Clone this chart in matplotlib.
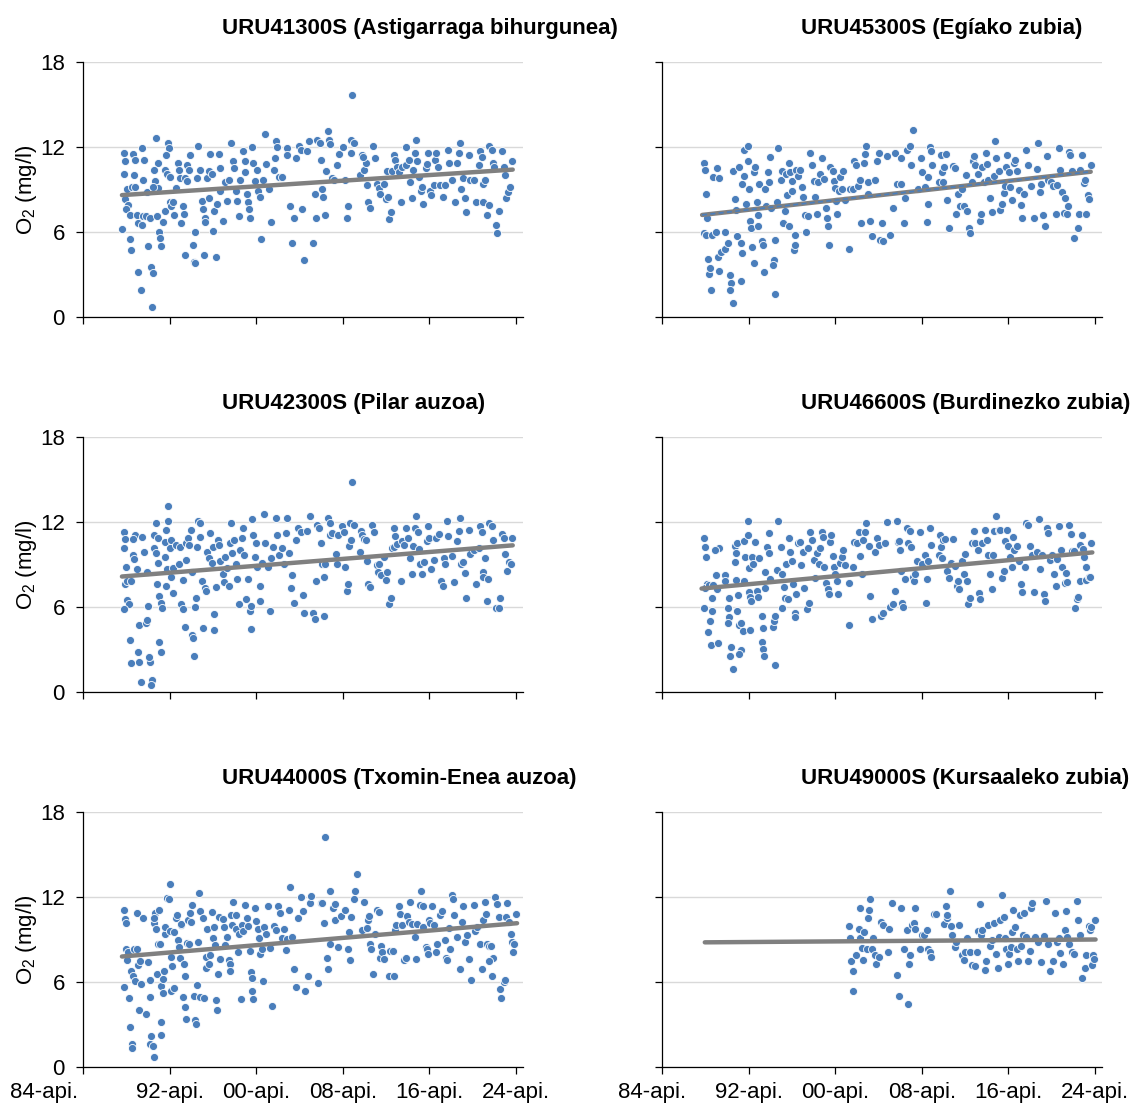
import numpy as np
import matplotlib
matplotlib.use('Agg')
import matplotlib.pyplot as plt
from matplotlib.transforms import ScaledTranslation

plt.rcParams['font.family'] = ['Liberation Sans', 'DejaVu Sans']
plt.rcParams['mathtext.fontset'] = 'custom'
plt.rcParams['mathtext.rm'] = 'Liberation Sans'

# O2 (mg/l) neurketak: (urtea, balioa)
uru41300s = [
    (1988.0, 11.6), (1988.1, 11.0), (1988.0, 10.1), (1988.3, 9.0), (1988.1, 8.3), (1988.4, 7.9), (1988.2, 7.6),
    (1988.6, 7.2), (1987.9, 6.2), (1988.6, 5.5), (1988.7, 4.7), (1989.3, 3.2), (1989.6, 1.9), (1990.6, 0.7),
    (1990.5, 3.5), (1990.7, 3.1), (1990.3, 5.0), (1988.9, 11.5), (1989.1, 11.1), (1989.7, 11.9), (1989.9, 11.1),
    (1989.0, 10.0), (1988.8, 9.2), (1989.1, 9.2), (1989.8, 9.7), (1989.2, 7.2), (1989.8, 7.1), (1989.3, 6.6),
    (1989.7, 6.5), (1990.1, 7.1), (1990.4, 7.0), (1990.2, 8.8), (1991.0, 12.6), (1991.2, 10.9), (1990.8, 10.4),
    (1990.9, 9.6), (1991.2, 9.1), (1990.7, 9.2), (1991.1, 7.1), (1991.3, 6.0), (1991.4, 5.6), (1991.5, 5.0),
    (1991.6, 6.7), (1991.8, 7.5), (1991.8, 10.4), (1992.1, 12.3), (1992.2, 11.9), (1991.9, 11.4), (1992.0, 10.1),
    (1992.3, 9.9), (1992.3, 8.1), (1992.4, 7.8), (1992.6, 8.1), (1992.8, 9.1), (1992.7, 7.2), (1993.0, 10.9),
    (1993.1, 10.4), (1993.2, 9.8), (1993.5, 7.8), (1993.6, 7.3), (1993.3, 6.6), (1993.7, 4.4), (1993.9, 10.7),
    (1994.1, 11.4), (1994.0, 10.4), (1993.7, 9.8), (1993.9, 9.6), (1994.4, 5.1), (1994.5, 3.9), (1994.6, 3.8),
    (1994.6, 6.0), (1994.9, 12.1), (1994.8, 9.8), (1995.05, 10.4), (1995.2, 8.2), (1995.3, 7.6), (1995.5, 7.0),
    (1995.5, 6.7), (1995.4, 4.4), (1995.7, 9.8), (1996.0, 11.5), (1995.9, 10.3), (1995.9, 8.4), (1996.2, 10.1),
    (1996.4, 7.5), (1996.3, 6.1), (1996.5, 4.2), (1996.6, 8.0), (1996.8, 11.5), (1996.9, 10.5), (1996.9, 8.9),
    (1997.2, 6.8), (1997.4, 9.5), (1997.7, 9.7), (1997.6, 8.2), (1997.9, 12.3), (1998.1, 11.0), (1998.2, 10.5),
    (1998.4, 8.9), (1998.5, 8.2), (1998.7, 7.1), (1998.8, 9.7), (1999.0, 11.7), (1999.2, 11.0), (1999.2, 10.2),
    (1999.4, 8.7), (1999.5, 8.1), (1999.6, 7.6), (1999.7, 7.0), (1999.9, 12.0), (2000.0, 10.9), (2000.1, 9.6),
    (2000.3, 10.4), (2000.4, 8.9), (2000.6, 8.5), (2000.7, 5.5), (2000.9, 9.7), (2001.1, 12.9), (2001.2, 10.8),
    (2001.4, 9.0), (2001.6, 6.7), (2001.9, 10.4), (2002.1, 12.4), (2002.2, 12.0), (2002.0, 11.2), (2002.35, 9.9),
    (2002.65, 9.9), (2003.1, 11.9), (2003.1, 11.4), (2003.4, 7.8), (2003.6, 5.2), (2003.7, 7.0), (2003.9, 11.2),
    (2004.2, 12.1), (2004.35, 11.8), (2004.5, 7.6), (2004.7, 4.0), (2004.9, 11.7), (2005.1, 12.4), (2005.5, 5.2),
    (2005.7, 8.7), (2005.8, 7.0), (2005.9, 12.5), (2006.15, 12.3), (2006.25, 11.1),
    (2006.4, 8.5), (2006.3, 9.0), (2006.6, 7.2), (2006.7, 10.3), (2006.9, 13.1), (2007.0, 12.5), (2007.1, 12.2),
    (2007.25, 9.8), (2007.4, 9.7), (2007.7, 10.7), (2007.9, 11.5), (2008.3, 12.0), (2008.5, 9.7), (2008.6, 7.0),
    (2008.7, 7.8), (2009.0, 11.6), (2009.1, 15.7), (2009.0, 12.5), (2009.3, 12.25), (2009.8, 10.0), (2010.0, 11.4),
    (2010.2, 10.4), (2010.35, 10.85), (2010.1, 11.3), (2010.45, 9.3), (2010.6, 8.1), (2010.8, 7.7), (2011.0, 12.1),
    (2011.2, 11.2), (2011.4, 9.4), (2011.6, 9.1), (2011.7, 8.7), (2012.1, 9.4), (2012.2, 8.3), (2012.4, 8.5),
    (2012.5, 6.9), (2012.7, 7.4), (2012.3, 10.3), (2012.8, 10.3), (2013.0, 11.4), (2013.1, 11.1), (2013.3, 10.6),
    (2013.4, 10.2), (2013.6, 8.1), (2013.7, 10.6), (2014.1, 10.7), (2014.1, 12.0), (2014.35, 11.05), (2014.5, 9.5),
    (2014.6, 8.4), (2014.7, 10.4), (2014.9, 11.6), (2015.05, 12.5), (2015.15, 11.0), (2015.25, 9.9), (2015.45, 8.9),
    (2015.6, 9.2), (2015.7, 8.0), (2015.9, 10.5), (2016.0, 10.8), (2016.1, 11.6), (2016.3, 8.9), (2016.4, 8.6),
    (2016.65, 9.3), (2016.8, 11.1), (2016.9, 11.6), (2017.05, 10.6), (2017.2, 9.3), (2017.5, 8.5), (2017.7, 9.3),
    (2017.95, 11.8), (2018.1, 10.85), (2018.35, 9.65), (2018.6, 8.1), (2018.8, 10.85), (2018.95, 11.6),
    (2019.05, 12.25), (2019.2, 9.0), (2019.35, 9.8), (2019.5, 8.4), (2019.65, 7.4), (2019.9, 11.4), (2020.0, 9.7),
    (2020.35, 9.65), (2020.55, 8.1), (2020.8, 10.7), (2020.95, 11.7), (2021.1, 11.3), (2021.2, 9.4), (2021.4, 9.65),
    (2021.25, 8.1), (2021.6, 7.2), (2021.75, 7.9), (2021.8, 12.1), (2022.0, 11.8), (2022.1, 10.9), (2022.25, 10.6),
    (2022.4, 6.5), (2022.5, 5.95), (2022.7, 7.45), (2022.95, 11.7), (2023.1, 10.6), (2023.25, 10.0), (2023.35, 8.4),
    (2023.5, 8.8), (2023.7, 9.2), (2023.9, 11.0),
]

uru45300s = [
    (1988.1, 10.85), (1988.2, 10.35), (1988.3, 8.7), (1988.4, 7.0), (1988.1, 5.95), (1988.3, 5.8), (1988.9, 5.8),
    (1988.5, 4.1), (1988.6, 3.0), (1988.8, 1.9), (1988.7, 3.45), (1989.0, 9.9), (1989.3, 10.5), (1989.5, 9.8),
    (1989.25, 6.0), (1989.5, 3.25), (1989.45, 4.2), (1989.7, 4.6), (1990.05, 6.0), (1990.1, 4.8), (1990.35, 5.25),
    (1990.5, 2.95), (1990.6, 2.4), (1990.55, 1.9), (1990.8, 0.95), (1990.95, 8.35), (1990.85, 10.3), (1991.1, 7.55),
    (1991.2, 5.7), (1991.35, 10.6), (1991.5, 5.25), (1991.65, 4.5), (1991.55, 2.55), (1991.65, 9.35), (1991.8, 9.95),
    (1991.85, 11.75), (1992.15, 12.05), (1992.2, 11.0), (1992.0, 7.95), (1992.25, 9.0), (1992.35, 6.8), (1992.45, 6.3),
    (1992.55, 4.95), (1992.7, 10.2), (1992.7, 3.8), (1992.85, 10.6), (1993.0, 8.1), (1993.1, 7.2), (1993.1, 6.4),
    (1993.25, 9.4), (1993.45, 5.35), (1993.55, 5.1), (1993.65, 3.2), (1993.75, 9.0), (1993.85, 7.85), (1994.05, 10.2),
    (1994.1, 9.5), (1994.2, 11.3), (1994.35, 7.7), (1994.55, 4.05), (1994.5, 3.65), (1994.65, 5.4), (1994.65, 1.65),
    (1994.85, 8.1), (1995.0, 11.9), (1995.2, 9.7), (1995.3, 10.3), (1995.4, 6.65), (1995.6, 7.5), (1995.7, 10.1),
    (1995.8, 8.6), (1995.95, 10.9), (1995.95, 6.4), (1996.1, 10.2), (1996.25, 9.6), (1996.3, 8.9), (1996.4, 4.7),
    (1996.5, 5.1), (1996.55, 5.8), (1996.6, 10.4), (1996.8, 9.95), (1997.0, 10.4), (1997.2, 9.2), (1997.3, 8.5),
    (1997.45, 7.2), (1997.55, 6.0), (1997.7, 7.1), (1997.95, 11.55), (1998.1, 10.7), (1998.25, 9.6), (1998.4, 8.5),
    (1998.6, 7.25), (1998.7, 9.5), (1998.85, 10.1), (1999.0, 11.25), (1999.2, 9.75), (1999.35, 7.7), (1999.5, 7.0),
    (1999.6, 6.4), (1999.7, 5.1), (1999.8, 10.6), (2000.0, 10.3), (2000.1, 9.6), (2000.25, 9.1), (2000.35, 8.2),
    (2000.45, 7.25), (2000.6, 8.9), (2000.7, 9.85), (2000.85, 9.0), (2001.0, 10.3), (2001.15, 8.25), (2001.5, 4.8),
    (2001.65, 9.0), (2001.85, 9.05), (2002.0, 11.0), (2002.2, 10.7), (2002.35, 9.25), (2002.55, 9.7), (2002.65, 6.65),
    (2002.9, 10.85), (2003.0, 11.5), (2003.1, 12.05), (2003.3, 8.7), (2003.3, 9.5), (2003.5, 6.8), (2003.6, 5.7),
    (2003.9, 9.7), (2004.1, 11.0), (2004.3, 11.6), (2004.4, 5.45), (2004.6, 6.65), (2004.7, 5.35), (2005.0, 11.35),
    (2005.3, 5.8), (2005.6, 7.7), (2005.8, 11.6), (2006.0, 9.4),
    (2006.3, 11.25), (2006.6, 6.65), (2006.7, 8.4), (2006.3, 9.4), (2006.9, 11.75), (2007.15, 12.05), (2007.25, 10.7),
    (2007.45, 13.2), (2007.85, 9.05), (2008.2, 11.2), (2008.3, 10.25), (2008.55, 9.2), (2008.7, 6.7), (2008.8, 8.0),
    (2008.85, 9.9), (2009.0, 12.0), (2009.1, 11.7), (2009.2, 10.7), (2009.8, 9.5), (2010.0, 11.45), (2010.15, 10.2),
    (2010.25, 9.5), (2010.3, 10.55), (2010.45, 11.5), (2010.6, 8.25), (2010.75, 6.25), (2011.15, 10.65),
    (2011.35, 10.5), (2011.45, 7.25), (2011.6, 8.65), (2011.75, 7.8), (2011.95, 9.0), (2012.15, 7.85), (2012.3, 10.05),
    (2012.45, 7.5), (2012.6, 6.25), (2012.7, 5.95), (2012.85, 9.5), (2013.0, 11.0), (2013.05, 11.35), (2013.2, 10.7),
    (2013.45, 10.1), (2013.6, 6.8), (2013.7, 7.25), (2013.8, 10.6), (2014.0, 9.5), (2014.15, 11.55), (2014.3, 10.8),
    (2014.4, 9.7), (2014.55, 8.4), (2014.75, 7.4), (2014.9, 9.95), (2015.0, 12.4), (2015.1, 11.25), (2015.35, 10.3),
    (2015.5, 7.55), (2015.65, 8.0), (2015.8, 8.75), (2015.9, 9.25), (2016.05, 10.55), (2016.15, 11.45),
    (2016.3, 10.25), (2016.35, 9.2), (2016.6, 8.25), (2016.75, 10.9), (2016.9, 11.1), (2017.05, 10.3), (2017.2, 8.95),
    (2017.45, 7.9), (2017.5, 7.0), (2017.65, 8.65), (2017.85, 11.75), (2018.05, 10.7), (2018.35, 9.25),
    (2018.6, 6.95), (2018.9, 10.45), (2019.0, 12.25), (2019.15, 8.8), (2019.3, 9.4), (2019.4, 7.2), (2019.65, 6.4),
    (2019.8, 11.35), (2019.9, 9.65), (2020.2, 9.55), (2020.4, 9.25), (2020.6, 7.25), (2020.75, 9.3), (2020.9, 11.9),
    (2021.05, 10.35), (2021.2, 8.8), (2021.35, 7.35), (2021.5, 8.4), (2021.65, 7.25), (2021.75, 7.8), (2021.8, 11.65),
    (2021.95, 11.4), (2022.1, 10.3), (2022.35, 5.55), (2022.65, 6.25), (2022.8, 7.3), (2022.9, 10.4), (2023.0, 11.4),
    (2023.2, 9.45), (2023.35, 9.7), (2023.45, 7.25), (2023.6, 8.6), (2023.7, 8.35), (2023.85, 10.7),
]

uru42300s = [
    (1988.0, 11.3), (1988.1, 10.8), (1988.0, 10.15), (1988.25, 8.8), (1988.1, 7.65), (1988.35, 7.8), (1988.65, 7.85),
    (1988.35, 6.5), (1988.5, 6.2), (1988.0, 5.85), (1988.6, 3.7), (1988.7, 2.05), (1989.3, 2.85), (1989.4, 2.1),
    (1989.6, 0.7), (1989.1, 11.05), (1988.9, 10.8), (1988.9, 9.65), (1989.0, 9.4), (1989.2, 8.7), (1989.7, 10.95),
    (1989.9, 9.85), (1989.4, 4.7), (1990.1, 4.9), (1990.2, 5.05), (1990.3, 6.05), (1990.2, 8.5), (1990.45, 2.1),
    (1990.35, 2.5), (1990.6, 0.85), (1990.55, 0.5), (1990.8, 11.05), (1990.85, 10.15), (1991.0, 11.95), (1991.0, 9.8),
    (1991.15, 9.1), (1991.1, 7.6), (1991.3, 6.8), (1991.5, 6.3), (1991.55, 5.95), (1991.3, 3.5), (1991.45, 2.85),
    (1991.2, 10.9), (1991.8, 9.55), (1991.85, 10.6), (1991.9, 11.45), (1992.1, 13.1), (1992.1, 12.05), (1992.0, 8.7),
    (1991.95, 7.45), (1992.3, 10.15), (1992.4, 10.7), (1992.4, 8.15), (1992.6, 7.0), (1992.55, 8.75), (1992.85, 10.35),
    (1993.1, 9.0), (1993.2, 10.25), (1993.3, 6.2), (1993.5, 5.85), (1993.5, 7.9), (1993.65, 4.6), (1993.75, 9.35),
    (1993.8, 10.5), (1993.95, 10.85), (1994.05, 10.4), (1994.2, 11.45), (1994.3, 8.45), (1994.35, 4.05), (1994.4, 3.8),
    (1994.5, 2.55), (1994.6, 6.0), (1994.7, 6.6), (1994.8, 10.2), (1994.9, 12.05), (1995.1, 11.95), (1995.05, 10.95),
    (1995.2, 7.85), (1995.35, 4.55), (1995.5, 7.35), (1995.6, 7.1), (1995.75, 9.9), (1995.85, 9.45), (1995.95, 11.2),
    (1996.15, 9.1), (1996.25, 10.25), (1996.35, 4.4), (1996.35, 5.5), (1996.55, 7.4), (1996.7, 10.7), (1996.8, 10.35),
    (1996.95, 9.25), (1997.2, 8.3), (1997.25, 7.75), (1997.4, 9.5), (1997.55, 8.75), (1997.7, 7.45), (1997.8, 10.55),
    (1997.9, 11.95), (1998.0, 9.8), (1998.2, 10.7), (1998.35, 9.0), (1998.5, 8.0), (1998.65, 6.2), (1998.8, 10.05),
    (1998.95, 10.9), (1999.05, 11.55), (1999.15, 9.7), (1999.35, 6.55), (1999.5, 8.0), (1999.65, 5.7), (1999.75, 4.45),
    (1999.8, 6.1), (1999.9, 12.2), (2000.0, 11.05), (2000.1, 9.5), (2000.25, 10.5), (2000.35, 8.85), (2000.6, 7.45),
    (2000.65, 6.4), (2000.8, 9.1), (2001.0, 12.55), (2001.1, 10.5), (2001.3, 8.85), (2001.55, 5.75), (2001.6, 9.45),
    (2001.85, 10.25), (2002.1, 12.3), (2002.2, 11.05), (2002.4, 9.7), (2002.6, 10.15), (2002.8, 9.0), (2003.0, 11.2),
    (2003.1, 12.3), (2003.25, 9.8), (2003.5, 7.35), (2003.6, 8.25), (2003.7, 6.25), (2003.9, 10.7), (2004.15, 11.55),
    (2004.4, 11.3), (2004.55, 6.85), (2004.7, 5.55), (2004.95, 11.35), (2005.2, 12.4), (2005.5, 5.55), (2005.7, 5.15),
    (2005.8, 7.8), (2005.9, 11.8), (2006.1, 11.55), (2006.2, 10.5),
    (2006.5, 5.35), (2006.35, 9.0), (2006.5, 8.15), (2006.65, 9.0), (2006.9, 12.3), (2007.1, 11.95), (2007.1, 11.05),
    (2007.25, 11.2), (2007.6, 9.75), (2007.7, 9.0), (2007.85, 11.05), (2008.2, 11.7), (2008.35, 11.3), (2008.5, 8.85),
    (2008.65, 7.1), (2008.7, 7.6), (2008.8, 10.3), (2009.0, 10.75), (2008.9, 11.95), (2009.1, 14.8), (2009.25, 11.8),
    (2009.8, 9.85), (2009.95, 11.35), (2010.05, 11.05), (2010.2, 10.8), (2010.35, 10.7), (2010.45, 9.25),
    (2010.55, 7.65), (2010.75, 7.4), (2010.95, 11.8), (2011.15, 11.3), (2011.45, 8.95), (2011.5, 8.5), (2011.6, 9.0),
    (2011.75, 8.25), (2012.05, 9.5), (2012.2, 7.9), (2012.35, 8.45), (2012.5, 6.2), (2012.7, 6.6), (2012.8, 10.15),
    (2012.95, 10.2), (2013.0, 11.55), (2013.1, 11.0), (2013.3, 10.45), (2013.65, 7.8), (2013.7, 10.65),
    (2013.9, 10.35), (2014.1, 11.6), (2014.3, 10.9), (2014.5, 9.45), (2014.65, 8.3), (2014.75, 10.3), (2014.95, 11.6),
    (2015.05, 12.45), (2015.2, 11.3), (2015.25, 10.1), (2015.35, 9.0), (2015.6, 8.35), (2015.8, 9.15),
    (2016.0, 10.65), (2016.1, 11.7), (2016.2, 10.9), (2016.4, 8.7), (2016.65, 9.3), (2016.9, 10.85), (2017.1, 11.15),
    (2017.3, 7.8), (2017.5, 7.45), (2017.6, 9.45), (2017.7, 9.0), (2017.85, 12.1), (2018.0, 11.0), (2018.35, 9.6),
    (2018.55, 7.75), (2018.8, 10.65), (2018.95, 11.35), (2019.05, 12.3), (2019.2, 9.0), (2019.35, 9.2),
    (2019.5, 8.4), (2019.65, 6.65), (2019.9, 11.45), (2020.0, 9.75), (2020.35, 10.0), (2020.55, 7.6),
    (2020.8, 10.15), (2020.95, 11.7), (2021.1, 11.3), (2021.2, 8.45), (2021.35, 9.45), (2021.25, 8.15),
    (2021.7, 8.0), (2021.6, 6.4), (2021.8, 11.95), (2022.05, 11.75), (2022.15, 10.7), (2022.4, 5.95),
    (2022.65, 5.95), (2022.75, 6.6), (2022.95, 11.15), (2023.1, 10.85), (2023.25, 9.75), (2023.4, 8.55),
    (2023.6, 9.2), (2023.75, 9.0), (2023.9, 10.9),
]

uru46600s = [
    (1988.1, 10.9), (1988.2, 10.25), (1988.3, 9.5), (1988.4, 7.6), (1988.2, 7.35), (1988.6, 7.55), (1989.0, 7.55),
    (1989.3, 7.25), (1988.9, 6.6), (1988.1, 5.9), (1988.9, 5.7), (1988.7, 5.0), (1988.5, 4.25), (1988.8, 3.3),
    (1989.4, 3.45), (1989.2, 8.25), (1989.5, 10.15), (1989.1, 10.0), (1990.05, 8.25), (1990.1, 7.8), (1990.4, 6.6),
    (1990.35, 5.9), (1990.4, 5.3), (1990.35, 4.85), (1990.65, 3.2), (1990.55, 2.55), (1990.8, 1.6), (1991.5, 2.95),
    (1991.4, 2.7), (1991.0, 10.3), (1991.2, 10.5), (1991.05, 9.8), (1991.0, 9.2), (1991.1, 7.9), (1991.3, 6.85),
    (1991.2, 5.7), (1991.35, 4.75), (1991.55, 4.85), (1991.7, 4.3), (1991.8, 7.8), (1991.85, 10.65), (1991.95, 9.55),
    (1992.15, 12.1), (1992.2, 11.05), (1992.25, 8.75), (1992.3, 7.05), (1992.4, 6.7), (1992.45, 6.4), (1992.4, 4.4),
    (1992.55, 9.55), (1992.65, 9.0), (1992.85, 10.6), (1993.0, 7.1), (1993.1, 6.7), (1993.25, 9.45), (1993.45, 5.35),
    (1993.5, 3.5), (1993.55, 3.05), (1993.65, 2.55), (1993.55, 4.5), (1993.75, 8.45), (1993.8, 7.35), (1993.95, 10.25),
    (1994.1, 9.8), (1994.15, 11.25), (1994.25, 8.0), (1994.5, 4.6), (1994.55, 5.0), (1994.65, 5.35), (1994.65, 1.9),
    (1994.85, 8.6), (1995.0, 12.1), (1995.2, 10.25), (1995.3, 8.3), (1995.3, 5.95), (1995.5, 7.4), (1995.6, 6.6),
    (1995.7, 9.0), (1995.95, 10.85), (1995.9, 6.55), (1996.1, 9.85), (1996.25, 9.25), (1996.35, 7.6), (1996.5, 5.55),
    (1996.55, 5.3), (1996.6, 6.9), (1996.8, 10.5), (1997.0, 10.6), (1997.1, 8.95), (1997.25, 9.85), (1997.4, 7.35),
    (1997.6, 5.85), (1997.7, 10.15), (1997.85, 6.3), (1997.95, 11.3), (1998.1, 10.7), (1998.25, 9.3), (1998.4, 8.05),
    (1998.55, 9.8), (1998.75, 9.0), (1998.85, 10.15), (1999.0, 11.3), (1999.1, 10.95), (1999.25, 8.8), (1999.4, 7.7),
    (1999.55, 7.25), (1999.65, 6.95), (1999.8, 10.6), (1999.9, 11.05), (2000.0, 9.6), (2000.15, 8.85), (2000.25, 8.3),
    (2000.45, 7.8), (2000.55, 6.95), (2000.7, 9.1), (2000.85, 9.5), (2001.0, 10.0), (2001.15, 8.95), (2001.5, 4.75),
    (2001.55, 7.7), (2001.85, 8.85), (2002.0, 10.6), (2002.25, 10.5), (2002.45, 11.3), (2002.55, 9.6), (2002.7, 8.3),
    (2002.85, 10.7), (2003.0, 11.3), (2003.1, 11.95), (2003.35, 10.3), (2003.5, 6.75), (2003.6, 5.15), (2003.9, 9.85),
    (2004.1, 10.9), (2004.3, 10.35), (2004.5, 5.35), (2004.7, 5.55), (2004.85, 10.5), (2005.05, 12.0), (2005.35, 6.0),
    (2005.55, 6.2), (2005.75, 7.1), (2006.0, 12.05), (2006.05, 10.6),
    (2006.15, 10.65), (2006.25, 10.0), (2006.35, 8.55), (2006.45, 6.3), (2006.55, 6.0), (2006.65, 8.0),
    (2006.85, 11.55), (2007.0, 10.5), (2007.15, 11.35), (2007.25, 10.2), (2007.45, 8.1), (2007.55, 7.85),
    (2007.6, 8.3), (2007.8, 9.25), (2008.1, 11.3), (2008.25, 9.0), (2008.5, 9.65), (2008.6, 6.25), (2008.7, 8.0),
    (2008.8, 9.25), (2009.0, 11.55), (2009.1, 10.35), (2009.8, 9.65), (2009.95, 11.05), (2010.05, 10.25),
    (2010.15, 9.45), (2010.25, 10.7), (2010.4, 10.8), (2010.6, 8.55), (2010.75, 8.05), (2010.9, 9.1), (2011.1, 10.8),
    (2011.3, 8.9), (2011.5, 7.45), (2011.6, 7.85), (2011.7, 7.25), (2012.0, 9.25), (2012.1, 8.3), (2012.25, 9.75),
    (2012.4, 7.8), (2012.55, 6.2), (2012.7, 6.6), (2012.85, 10.5), (2013.1, 11.35), (2013.2, 10.55), (2013.4, 10.0),
    (2013.55, 7.0), (2013.65, 6.55), (2013.8, 10.55), (2014.1, 11.45), (2014.25, 10.75), (2014.35, 9.65),
    (2014.55, 8.3), (2014.7, 7.3), (2014.8, 9.7), (2014.95, 11.35), (2015.1, 12.4), (2015.35, 11.45),
    (2015.5, 11.45), (2015.7, 8.05), (2015.8, 8.55), (2015.95, 10.65), (2016.1, 11.45), (2016.25, 10.3),
    (2016.4, 9.5), (2016.6, 8.8), (2016.7, 10.95), (2016.8, 10.0), (2017.05, 10.3), (2017.2, 9.25), (2017.45, 7.65),
    (2017.5, 7.05), (2017.75, 8.85), (2017.9, 11.9), (2018.05, 11.8), (2018.2, 10.3), (2018.4, 9.65), (2018.6, 7.05),
    (2018.9, 9.9), (2019.05, 12.2), (2019.2, 8.7), (2019.35, 9.7), (2019.55, 6.95), (2019.65, 6.4), (2019.8, 11.6),
    (2019.9, 11.25), (2020.05, 9.3), (2020.3, 9.7), (2020.45, 8.3), (2020.65, 7.45), (2020.75, 9.4), (2020.95, 11.7),
    (2021.1, 10.0), (2021.2, 8.85), (2021.45, 7.7), (2021.55, 8.4), (2021.7, 7.75), (2021.85, 11.8), (2022.0, 11.15),
    (2022.1, 9.95), (2022.3, 9.95), (2022.4, 5.95), (2022.55, 6.55), (2022.7, 6.7), (2022.85, 7.8), (2022.9, 10.35),
    (2023.0, 11.05), (2023.15, 10.1), (2023.25, 9.5), (2023.4, 8.8), (2023.45, 7.9), (2023.65, 8.15), (2023.8, 8.1),
    (2023.9, 10.55),
]

uru44000s = [
    (1988.0, 11.05), (1988.15, 10.45), (1988.2, 10.15), (1988.25, 8.3), (1988.45, 8.1), (1988.35, 7.55),
    (1988.7, 6.8), (1988.85, 6.4), (1989.1, 6.05), (1988.0, 5.65), (1988.5, 4.85), (1988.6, 2.85), (1988.8, 1.6),
    (1988.8, 1.35), (1989.2, 10.85), (1989.0, 8.35), (1989.2, 8.3), (1989.3, 7.2), (1989.5, 7.5), (1989.4, 4.05),
    (1989.6, 5.85), (1989.8, 10.5), (1990.1, 3.75), (1990.3, 7.4), (1990.4, 6.15), (1990.4, 4.95), (1990.55, 2.2),
    (1990.45, 1.65), (1990.7, 1.5), (1990.8, 0.7), (1990.85, 10.15), (1990.95, 10.9), (1991.0, 9.75), (1990.85, 10.5),
    (1991.3, 11.05), (1991.15, 8.65), (1991.35, 8.7), (1991.1, 6.55), (1991.45, 3.2), (1991.45, 2.25), (1991.45, 5.7),
    (1991.6, 6.2), (1991.65, 5.2), (1991.75, 6.8), (1991.85, 9.4), (1991.85, 9.85), (1992.0, 11.9), (1992.2, 11.85),
    (1992.25, 12.95), (1992.3, 9.6), (1992.4, 7.8), (1992.5, 7.1), (1992.35, 5.35), (1992.7, 5.6), (1992.7, 9.55),
    (1992.8, 10.5), (1992.95, 10.7), (1993.0, 8.95), (1993.1, 8.5), (1993.2, 7.7), (1993.3, 10.0), (1993.35, 10.1),
    (1993.45, 4.95), (1993.6, 7.25), (1993.65, 4.25), (1993.65, 6.45), (1993.75, 3.4), (1993.9, 8.75), (1993.95, 10.35),
    (1994.05, 8.7), (1994.1, 10.9), (1994.2, 10.25), (1994.3, 11.45), (1994.5, 5.0), (1994.6, 3.35), (1994.7, 3.05),
    (1994.8, 5.8), (1994.9, 8.8), (1995.0, 12.25), (1995.1, 11.0), (1995.05, 4.95), (1995.35, 10.5), (1995.45, 4.9),
    (1995.6, 7.75), (1995.65, 7.0), (1995.7, 9.75), (1995.85, 7.3), (1995.95, 7.9), (1996.15, 10.95), (1996.25, 9.1),
    (1996.35, 9.9), (1996.45, 8.6), (1996.55, 4.75), (1996.6, 4.05), (1996.7, 6.55), (1996.85, 10.6), (1996.95, 7.65),
    (1997.2, 10.45), (1997.3, 9.9), (1997.4, 8.6), (1997.55, 9.15), (1997.7, 7.55), (1997.8, 7.25), (1997.85, 6.8),
    (1997.9, 10.7), (1998.0, 10.0), (1998.15, 11.65), (1998.35, 10.75), (1998.4, 9.75), (1998.65, 9.4),
    (1998.55, 8.1), (1998.85, 4.8), (1998.95, 10.0), (1999.05, 9.6), (1999.25, 11.45), (1999.4, 10.5),
    (1999.45, 9.95), (1999.65, 8.2), (1999.8, 6.7), (1999.85, 6.3), (1999.85, 5.35), (1999.95, 4.8), (2000.1, 11.2),
    (2000.25, 10.3), (2000.4, 9.75), (2000.5, 9.1), (2000.6, 7.95), (2000.8, 8.35), (2000.9, 6.05), (2001.0, 9.9),
    (2001.2, 9.4), (2001.35, 11.4), (2001.55, 8.4), (2001.75, 4.3), (2001.9, 9.95), (2002.05, 9.65), (2002.25, 11.35),
    (2002.45, 10.85), (2002.6, 9.1), (2002.85, 9.75), (2003.0, 8.25), (2003.1, 9.05), (2003.3, 11.05), (2003.4, 12.7),
    (2003.6, 9.2), (2003.7, 6.9), (2003.9, 5.65), (2004.15, 10.5), (2004.4, 12.0), (2004.55, 11.0), (2004.8, 5.35),
    (2005.0, 6.45), (2005.2, 11.6), (2005.35, 12.1), (2005.95, 5.95), (2006.2, 11.55),
    (2006.65, 16.2), (2006.35, 11.55), (2006.5, 10.2), (2006.8, 7.7), (2006.9, 6.95), (2007.05, 8.7), (2007.1, 12.45),
    (2007.35, 11.2), (2007.5, 11.5), (2007.55, 10.4), (2007.8, 8.45), (2008.05, 10.65), (2008.5, 11.05),
    (2008.7, 8.35), (2008.8, 9.5), (2008.95, 7.55), (2009.05, 10.6), (2009.25, 11.85), (2009.4, 12.4),
    (2009.6, 13.6), (2010.0, 9.7), (2010.25, 11.65), (2010.45, 9.8), (2010.55, 10.35), (2010.65, 10.65),
    (2010.8, 8.65), (2010.9, 8.35), (2011.05, 6.55), (2011.25, 9.4), (2011.4, 11.05), (2011.6, 10.95), (2011.7, 7.7),
    (2011.8, 8.55), (2011.85, 8.15), (2012.05, 7.6), (2012.5, 6.45), (2012.65, 8.2), (2012.9, 8.2), (2013.0, 6.45),
    (2013.1, 9.7), (2013.2, 10.05), (2013.4, 11.35), (2013.55, 10.8), (2013.7, 10.05), (2013.9, 7.55),
    (2014.05, 7.7), (2014.2, 10.65), (2014.35, 10.25), (2014.45, 11.65), (2014.65, 10.1), (2014.95, 9.2),
    (2015.05, 7.6), (2015.15, 10.1), (2015.4, 11.45), (2015.5, 12.45), (2015.65, 11.35), (2015.7, 9.9),
    (2015.9, 8.45), (2016.05, 8.35), (2016.1, 8.0), (2016.2, 10.35), (2016.3, 10.2), (2016.5, 11.35), (2016.7, 10.0),
    (2016.9, 8.1), (2017.0, 8.7), (2017.2, 10.7), (2017.4, 11.0), (2017.65, 8.95), (2017.75, 7.7), (2017.9, 7.55),
    (2018.05, 9.8), (2018.2, 8.3), (2018.35, 12.15), (2018.45, 11.85), (2018.55, 10.75), (2018.8, 9.2),
    (2019.05, 6.9), (2019.25, 10.25), (2019.4, 11.35), (2019.55, 8.8), (2019.7, 9.3), (2019.9, 7.65), (2020.1, 6.15),
    (2020.35, 11.45), (2020.5, 9.6), (2020.65, 9.85), (2020.9, 8.7), (2021.1, 6.9), (2021.25, 10.35),
    (2021.35, 11.65), (2021.5, 10.8), (2021.6, 8.7), (2021.8, 8.55), (2021.95, 8.55), (2022.0, 6.4), (2022.1, 7.7),
    (2021.75, 7.45), (2022.35, 12.0), (2022.5, 11.5), (2022.65, 10.6), (2022.8, 5.5), (2022.9, 4.9), (2023.1, 6.0),
    (2023.2, 6.15), (2023.35, 10.6), (2023.45, 11.55), (2023.6, 10.25), (2023.75, 9.4), (2023.9, 8.8),
    (2024.0, 8.1), (2024.1, 8.7), (2024.25, 10.8),
]

uru49000s = [
    (2001.5, 9.95), (2001.6, 9.1), (2001.7, 7.45), (2001.9, 6.8), (2001.9, 5.35), (2002.2, 7.9), (2002.4, 9.75),
    (2002.5, 11.2), (2002.5, 9.1), (2002.75, 8.4), (2002.8, 7.55), (2002.95, 9.5), (2003.15, 8.3), (2003.3, 10.5),
    (2003.4, 11.05), (2003.5, 11.85), (2003.65, 8.35), (2003.7, 9.1), (2003.9, 7.9), (2004.05, 7.3), (2004.3, 7.8),
    (2004.45, 10.25), (2004.7, 10.05), (2005.1, 8.1), (2005.2, 9.75), (2005.45, 11.6), (2006.0, 6.5), (2006.15, 5.0),
    (2006.3, 11.2), (2006.6, 8.35), (2006.85, 9.7), (2007.0, 4.45), (2007.05, 7.3), (2007.15, 7.9), (2007.35, 10.0),
    (2007.5, 10.2), (2007.6, 11.2), (2007.65, 9.75), (2008.05, 8.3), (2008.3, 9.35), (2008.45, 9.35), (2008.7, 9.7),
    (2008.8, 8.3), (2009.0, 8.1), (2009.05, 7.8), (2009.35, 10.8), (2009.6, 10.8), (2010.3, 10.1), (2010.45, 11.35),
    (2010.6, 10.5), (2010.6, 10.75), (2010.85, 12.45), (2010.9, 9.95), (2011.05, 9.3), (2011.3, 8.45),
    (2011.45, 8.8), (2011.7, 10.05), (2012.0, 7.9), (2012.15, 7.55), (2012.25, 8.1), (2012.45, 9.1), (2012.7, 8.1),
    (2012.9, 7.2), (2013.15, 7.1), (2013.3, 8.1), (2013.4, 9.6), (2013.65, 11.5), (2013.7, 9.3), (2013.85, 9.7),
    (2014.05, 6.85), (2014.15, 7.45), (2014.35, 10.05), (2014.55, 8.55), (2014.7, 9.0), (2014.95, 10.15),
    (2015.1, 7.95), (2015.25, 7.0), (2015.4, 9.2), (2015.5, 10.35), (2015.7, 12.15), (2015.8, 10.6), (2015.9, 9.1),
    (2016.0, 8.3), (2016.2, 7.3), (2016.3, 7.95), (2016.45, 8.45), (2016.6, 9.55), (2016.7, 11.05), (2016.85, 9.9),
    (2017.0, 8.3), (2017.15, 7.45), (2017.35, 10.75), (2017.45, 8.55), (2017.55, 9.3), (2017.7, 10.9),
    (2017.85, 9.2), (2018.1, 7.45), (2018.25, 8.2), (2018.3, 11.25), (2018.45, 11.6), (2018.7, 9.2), (2018.95, 8.8),
    (2019.25, 7.4), (2019.55, 9.25), (2019.7, 11.7), (2019.9, 8.7), (2020.1, 6.75), (2020.35, 7.45), (2020.55, 10.85),
    (2020.75, 8.85), (2020.95, 9.1), (2021.05, 8.05), (2021.25, 7.25), (2021.5, 9.7), (2021.6, 11.0), (2021.7, 9.2),
    (2021.85, 8.7), (2022.1, 8.1), (2022.35, 7.95), (2022.6, 11.7), (2022.7, 10.4), (2022.9, 9.3), (2023.0, 6.25),
    (2023.3, 7.0), (2023.4, 7.9), (2023.65, 9.95), (2023.8, 9.65), (2023.85, 9.9), (2024.0, 7.2), (2024.05, 7.9),
    (2024.15, 7.6), (2024.2, 10.4),
]

# joera-lerroak (hasiera eta amaiera)
trend_41300 = [(1987.85, 8.6), (2023.95, 10.4)]
trend_45300 = [(1987.95, 7.2), (2023.85, 10.25)]
trend_42300 = [(1987.85, 8.15), (2023.95, 10.35)]
trend_46600 = [(1987.9, 7.3), (2024.0, 9.85)]
trend_44000 = [(1987.85, 7.8), (2024.35, 10.15)]
trend_49000 = [(1988.2, 8.8), (2024.3, 9.0)]

titles = ['URU41300S (Astigarraga bihurgunea)', 'URU45300S (Egíako zubia)',
          'URU42300S (Pilar auzoa)', 'URU46600S (Burdinezko zubia)',
          'URU44000S (Txomin-Enea auzoa)', 'URU49000S (Kursaaleko zubia)']
datasets = [uru41300s, uru45300s, uru42300s, uru46600s, uru44000s, uru49000s]
trends = [trend_41300, trend_45300, trend_42300, trend_46600, trend_44000, trend_49000]

xtick_pos = [1984.25, 1992.25, 2000.25, 2008.25, 2016.25, 2024.25]
xtick_labels = ['84-api.', '92-api.', '00-api.', '08-api.', '16-api.', '24-api.']
yticks = [0, 6, 12, 18]

blue = '#4a7ebb'
grey = '#808080'

fig = plt.figure(figsize=(11.35, 11.04), dpi=100)

lefts = [0.0731, 0.5833]
bottoms = [0.7129, 0.3732, 0.0335]
w, h = 0.3877, 0.231
first_label_shift = [-0.39, -0.10]   # Excel-en lehen etiketa ezkerrera lekualdatuta

for i in range(6):
    row, col = i // 2, i % 2
    ax = fig.add_axes([lefts[col], bottoms[row], w, h])
    yr, o2 = np.array(datasets[i]).T
    ax.plot(yr, o2, 'o', color=blue, ms=5.8, mec='white', mew=0.6, zorder=3, clip_on=False)
    tx, ty = np.array(trends[i]).T
    ax.plot(tx, ty, color=grey, lw=3.2, zorder=4, solid_capstyle='round')
    if i == 1:
        ax.plot(tx, ty, color=blue, lw=1.2, ls=(0, (3, 2)), zorder=5)

    ax.set_xlim(1984.25, 2024.9)
    ax.set_ylim(0, 18)
    ax.set_yticks(yticks)
    ax.set_xticks(xtick_pos)
    ax.yaxis.grid(True, color='#d9d9d9', lw=1.0)
    ax.set_axisbelow(True)
    for s in ['top', 'right']:
        ax.spines[s].set_visible(False)
    for s in ['left', 'bottom']:
        ax.spines[s].set_linewidth(0.9)
        ax.spines[s].set_color('black')
    ax.tick_params(direction='out', length=5, width=0.9, labelsize=16)
    ax.tick_params(axis='y', pad=8)
    ax.tick_params(axis='x', pad=6)

    if row == 2:
        ax.set_xticklabels(xtick_labels)
        lab = ax.get_xticklabels()[0]
        lab.set_transform(lab.get_transform() +
                          ScaledTranslation(first_label_shift[col], 0, fig.dpi_scale_trans))
    else:
        ax.set_xticklabels([])
    if col == 0:
        ax.set_ylabel('O$_2$ (mg/l)', fontsize=16, labelpad=1)
    else:
        ax.set_yticklabels([])

    ax.text(0.316, 1.133, titles[i], transform=ax.transAxes, fontsize=16,
            fontweight='bold', ha='left', va='center')

fig.savefig('out.png', dpi=100)
